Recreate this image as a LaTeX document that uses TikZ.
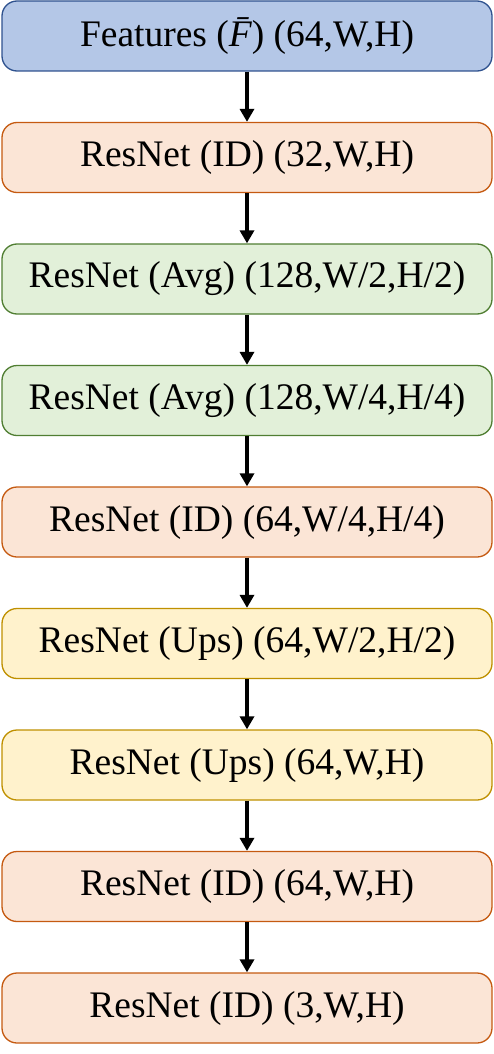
\documentclass[tikz,border=0pt]{standalone}
\usepackage{fontspec}
\setmainfont{Liberation Serif}
\usepackage{tikz}
\usetikzlibrary{positioning,arrows.meta}
\definecolor{featfill}{HTML}{B4C7E7}
\definecolor{featline}{HTML}{2F528F}
\definecolor{idfill}{HTML}{FBE5D6}
\definecolor{idline}{HTML}{C55A11}
\definecolor{avgfill}{HTML}{E2F0D9}
\definecolor{avgline}{HTML}{507E32}
\definecolor{upsfill}{HTML}{FFF2CC}
\definecolor{upsline}{HTML}{BF9000}

\begin{document}
\begin{tikzpicture}[
  every node/.style={font=\fontsize{37.5}{40}\selectfont, inner sep=0pt,
    minimum width=490pt, minimum height=70pt, rounded corners=15pt, line width=1.3pt},
  featbox/.style={draw=featline, fill=featfill},
  idbox/.style={draw=idline, fill=idfill},
  avgbox/.style={draw=avgline, fill=avgfill},
  upsbox/.style={draw=upsline, fill=upsfill},
  flow/.style={line width=4.5pt, -{Triangle[length=13pt,width=14pt]}},
  x=1pt, y=-1pt
]
  \useasboundingbox (0,0) rectangle (493,1054);
  \node[featbox] (feat) at (247,   36)   {Features ({\itshape\=F}) (64,W,H)};
  \node[idbox]   (id1)  at (247,  157.5) {ResNet (ID) (32,W,H)};
  \node[avgbox]  (avg1) at (247,  279)   {ResNet (Avg) (128,W/2,H/2)};
  \node[avgbox]  (avg2) at (247,  400.5) {ResNet (Avg) (128,W/4,H/4)};
  \node[idbox]   (id2)  at (247,  522)   {ResNet (ID) (64,W/4,H/4)};
  \node[upsbox]  (ups1) at (247,  643.5) {ResNet (Ups) (64,W/2,H/2)};
  \node[upsbox]  (ups2) at (247,  765)   {ResNet (Ups) (64,W,H)};
  \node[idbox]   (id3)  at (247,  886.5) {ResNet (ID) (64,W,H)};
  \node[idbox]   (id4)  at (247, 1008)   {ResNet (ID) (3,W,H)};
  % connectors
  \foreach \a/\b in {feat/id1, id1/avg1, avg1/avg2, avg2/id2, id2/ups1,
                     ups1/ups2, ups2/id3, id3/id4}
    \draw[flow] (\a.south) -- (\b.north);
\end{tikzpicture}
\end{document}
